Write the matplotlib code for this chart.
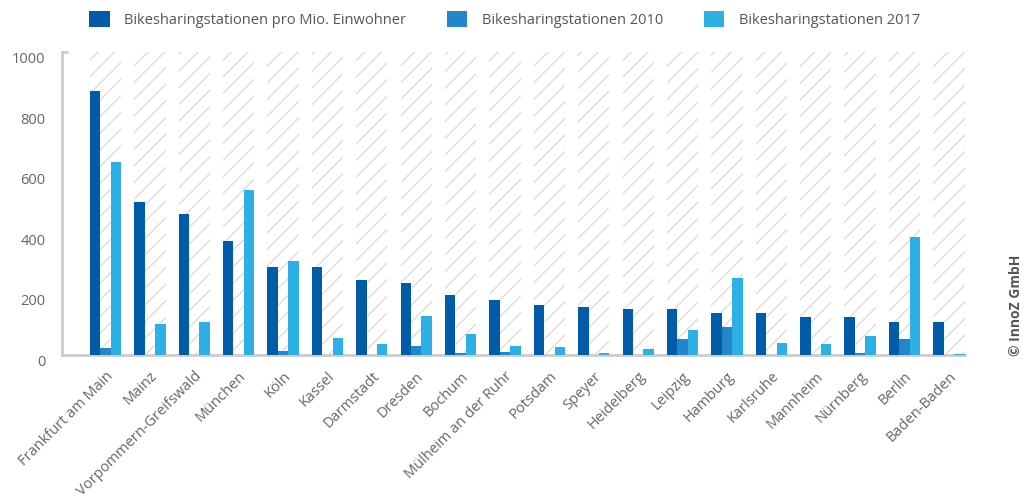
import matplotlib.pyplot as plt
import numpy as np

cities = [
    "Frankfurt am Main", "Mainz", "Vorpommern-Greifswald", "München", "Köln",
    "Kassel", "Darmstadt", "Dresden", "Bochum", "Mülheim an der Ruhr",
    "Potsdam", "Speyer", "Heidelberg", "Leipzig", "Hamburg", "Karlsruhe",
    "Mannheim", "Nürnberg", "Berlin", "Baden-Baden",
]
per_mio = [872, 505, 465, 376, 291, 291, 249, 238, 198, 180,
           165, 157, 152, 151, 140, 137, 125, 125, 109, 108]
stations_2010 = [22, 0, 0, 0, 13, 0, 0, 30, 5, 10,
                 0, 0, 0, 53, 93, 0, 0, 8, 54, 0]
stations_2017 = [638, 103, 109, 546, 309, 55, 36, 128, 70, 30,
                 26, 5, 21, 82, 253, 41, 36, 64, 390, 3]
y_ticks = [0, 200, 400, 600, 800, 1000]

series_labels = ["Bikesharingstationen pro Mio. Einwohner",
                 "Bikesharingstationen 2010", "Bikesharingstationen 2017"]
colors = ["#005ca8", "#2286c9", "#2db0e5"]

plt.rcParams["font.family"] = ["Open Sans", "DejaVu Sans"]
plt.rcParams["hatch.linewidth"] = 1.0
txt_color = "#666666"

fig = plt.figure(figsize=(10.32, 4.98), dpi=100)
ax = fig.add_axes([62 / 1032, 1 - 355 / 498, (965 - 62) / 1032, (355 - 52) / 498])

x = np.arange(len(cities))
bw = 0.235
group_w = 3 * bw

# hatched background columns
ax.bar(x, [1000] * len(x), width=group_w, color="white", edgecolor="#dcdcdc",
       linewidth=0, hatch="//", zorder=1)

for i, (vals, col) in enumerate(zip([per_mio, stations_2010, stations_2017], colors)):
    ax.bar(x + (i - 1) * bw, vals, width=bw, color=col, label=series_labels[i],
           zorder=3)

ax.set_xlim(-0.35 - 0.63, len(x) - 1 + group_w / 2 + 0.01)
ax.set_ylim(0, 1000)

for side in ["top", "right"]:
    ax.spines[side].set_visible(False)
for side in ["left", "bottom"]:
    ax.spines[side].set_color("#cccccc")
    ax.spines[side].set_linewidth(2)

ax.set_yticks(y_ticks)
ax.set_yticklabels([str(v) for v in y_ticks], color=txt_color, fontsize=10.5,
                   va="top")
ax.tick_params(axis="y", length=0, pad=12)
ax.plot([0, 6 / 903], [1, 1], transform=ax.transAxes, color="#cccccc", lw=2,
        clip_on=False, solid_capstyle="butt")

ax.set_xticks(x)
ax.set_xticklabels(cities, rotation=45, ha="right", va="top",
                   rotation_mode="anchor", color=txt_color, fontsize=10.5)
ax.tick_params(axis="x", length=0, pad=10)

leg = fig.legend(loc="upper left", bbox_to_anchor=(76 / 1032, 1.005), ncol=3,
                 frameon=False, fontsize=10.5, handlelength=1.4, handleheight=1.4,
                 handletextpad=1.0, columnspacing=2.8, labelcolor="#555555")

fig.text(1016 / 1032, 1 - 356 / 498, "© InnoZ GmbH", rotation=90, ha="center",
         va="bottom", color="#555555", fontsize=10, fontweight="bold")

fig.savefig("out.png", dpi=100)
